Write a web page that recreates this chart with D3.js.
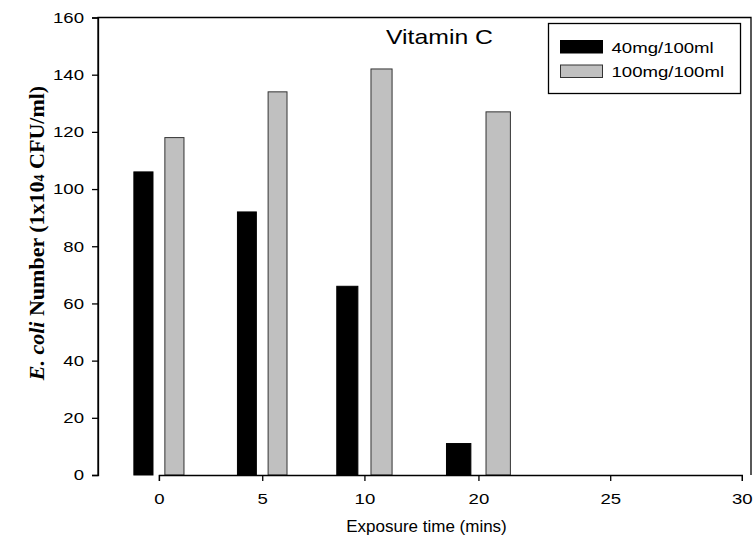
<!DOCTYPE html>
<html>
<head>
<meta charset="utf-8">
<script src="https://cdn.jsdelivr.net/npm/d3@7"></script>
<style>
  body { margin: 0; background: #fff; }
  text { font-family: "Liberation Sans", Arial, sans-serif; fill: #000; }
</style>
</head>
<body>
<div id="chart"></div>
<script>
// data
var times = [0, 5, 10, 20, 25, 30];
var low = [106, 92, 66, 11];      // 40mg/100ml
var high = [118, 134, 142, 127];  // 100mg/100ml
var seriesNames = ["40mg/100ml", "100mg/100ml"];
var yTicks = [0, 20, 40, 60, 80, 100, 120, 140, 160];

var W = 753, H = 550;
var margin = {top: 17.5, right: 2, bottom: 75, left: 98};
var width = W - margin.left - margin.right,
    height = H - margin.top - margin.bottom;

// the scanned original is stretched sideways, text included
var sx = 1.24;

// the original x axis spaces its categories unevenly
var tickFrac = [0.0933, 0.2515, 0.408, 0.5826, 0.7844, 0.986];
var x = d3.scaleLinear()
    .domain(times)
    .range(tickFrac.map(function (f) { return f * width; }));
var y = d3.scaleLinear().domain([0, 160]).range([height, 0]);

var svg = d3.select("#chart").append("svg")
    .attr("width", W)
    .attr("height", H);

var g = svg.append("g")
    .attr("transform", "translate(" + margin.left + "," + margin.top + ")");

// bars: width and offset follow the gap to the next category
function gap(i) {
    return x(times[i + 1]) - x(times[i]);
}
var barData = [];
low.forEach(function (v, i) {
    barData.push({i: i, v: v, s: 0});
    barData.push({i: i, v: high[i], s: 1});
});

g.selectAll(".bar")
    .data(barData)
    .enter().append("rect")
    .attr("class", "bar")
    .attr("x", function (d) {
        var c = x(times[d.i]) + (d.s == 0 ? -0.15 : 0.15) * gap(d.i);
        return c - 0.0925 * gap(d.i);
    })
    .attr("width", function (d) { return 0.185 * gap(d.i); })
    .attr("y", function (d) { return y(d.v); })
    .attr("height", function (d) { return height - y(d.v); })
    .style("fill", function (d) { return d.s == 0 ? "#000" : "#c0c0c0"; })
    .style("stroke", function (d) { return d.s == 0 ? "#000" : "#333"; })
    .style("stroke-width", 1);

// frame
g.append("path")
    .attr("d", "M0," + height + "V0H" + width + "V" + height)
    .style("fill", "none")
    .style("stroke", "#000")
    .style("stroke-width", 1.3);

// axes
var yAxis = g.append("g")
    .call(d3.axisLeft(y).tickValues(yTicks).tickSize(6));
var xAxis = g.append("g")
    .attr("transform", "translate(0," + height + ")")
    .call(d3.axisBottom(x).tickValues(times).tickFormat(d3.format("d")).tickSize(6).tickPadding(12));

[yAxis, xAxis].forEach(function (a) {
    a.select(".domain").style("stroke", "#000").style("stroke-width", 1.3);
    a.selectAll(".tick line").style("stroke", "#000").style("stroke-width", 1.3);
    a.selectAll(".tick text")
        .style("font-family", "'Liberation Sans', Arial, sans-serif")
        .style("font-size", "15px")
        .style("fill", "#000")
        .attr("transform", "scale(" + sx + ",1)");
});
yAxis.selectAll(".tick text").attr("x", -14 / sx);

// axis titles
svg.append("text")
    .attr("x", margin.left + width * 0.5 + 2)
    .attr("y", 532)
    .attr("text-anchor", "middle")
    .style("font-size", "17px")
    .text("Exposure time (mins)");

var yt = svg.append("text")
    .attr("transform", "translate(44,233) rotate(-90)")
    .attr("text-anchor", "middle")
    .style("font-weight", "bold")
    .style("font-size", "22px");
yt.append("tspan").style("font-style", "italic").style("font-family", "'Liberation Serif', serif").text("E. coli");
yt.append("tspan").style("font-family", "'Liberation Serif', serif").text(" Number (1x10");
yt.append("tspan").style("font-family", "'Liberation Serif', serif").style("font-size", "14px").text("4");
yt.append("tspan").style("font-family", "'Liberation Serif', serif").text(" CFU/ml)");

// chart title
svg.append("text")
    .attr("transform", "translate(439.5,44) scale(" + sx + ",1)")
    .attr("text-anchor", "middle")
    .style("font-size", "20px")
    .text("Vitamin C");

// legend
var legend = svg.append("g").attr("transform", "translate(548.5,23.5)");
legend.append("rect")
    .attr("width", 192)
    .attr("height", 70)
    .style("fill", "#fff")
    .style("stroke", "#000")
    .style("stroke-width", 1.3);
var items = legend.selectAll(".item")
    .data(seriesNames)
    .enter().append("g")
    .attr("transform", function (d, i) { return "translate(12," + (17 + i * 24.5) + ")"; });
items.append("rect")
    .attr("width", 42)
    .attr("height", 12.5)
    .style("fill", function (d, i) { return i == 0 ? "#000" : "#c0c0c0"; })
    .style("stroke", function (d, i) { return i == 0 ? "#000" : "#333"; });
items.append("text")
    .attr("transform", "translate(51,12) scale(" + sx + ",1)")
    .style("font-size", "15px")
    .text(function (d) { return d; });
</script>
</body>
</html>
